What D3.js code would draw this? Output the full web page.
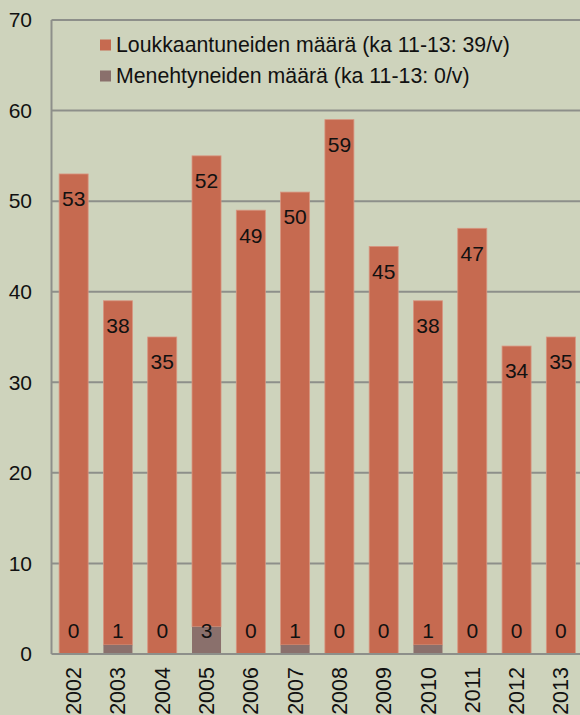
<!DOCTYPE html>
<html>
<head>
<meta charset="utf-8">
<script src="https://cdn.jsdelivr.net/npm/d3@7"></script>
<style>
  html, body { margin: 0; padding: 0; background: #ced3bc; }
  svg { display: block; }
  text { font-family: Arial, "Liberation Sans", sans-serif; fill: #111; }
</style>
</head>
<body>
<svg id="chart" width="580" height="715"></svg>
<script>
const years = ["2002","2003","2004","2005","2006","2007","2008","2009","2010","2011","2012","2013"];
const injured = [53, 38, 35, 52, 49, 50, 59, 45, 38, 47, 34, 35];
const killed  = [0, 1, 0, 3, 0, 1, 0, 0, 1, 0, 0, 0];
const yTicks = [0, 10, 20, 30, 40, 50, 60, 70];
const seriesNames = ["Loukkaantuneiden määrä (ka 11-13: 39/v)", "Menehtyneiden määrä (ka 11-13: 0/v)"];
const colors = ["#c66a50", "#8a706c"];

const svg = d3.select("#chart");
const margin = { left: 51.5, right: -3, top: 20, bottom: 61 };
const W = 580, H = 715;

const x = d3.scaleBand().domain(years)
  .range([margin.left, W - margin.right]).paddingInner(0.345).paddingOuter(0.1725);
const y = d3.scaleLinear().domain([0, 70]).range([H - margin.bottom, margin.top]);

// gridlines
svg.append("g").selectAll("line").data(yTicks.filter(d => d > 0)).join("line")
  .attr("x1", margin.left).attr("x2", W)
  .attr("y1", d => y(d)).attr("y2", d => y(d))
  .attr("stroke", "#8d8f8a").attr("stroke-width", 2);

// y axis line
svg.append("line").attr("x1", margin.left).attr("x2", margin.left)
  .attr("y1", y(70)).attr("y2", y(0)).attr("stroke", "#8d8f8a").attr("stroke-width", 2);

// y tick labels
svg.append("g").selectAll("text").data(yTicks).join("text")
  .attr("x", 32).attr("y", d => y(d)).attr("dy", "0.35em")
  .attr("text-anchor", "end").attr("font-size", 21).text(d => d);

// stacked data
const data = years.map((yr, i) => ({ year: yr, killed: killed[i], injured: injured[i] }));
const stack = d3.stack().keys(["killed", "injured"])(data);

const bars = svg.append("g");
bars.selectAll("rect.inj").data(stack[1]).join("rect").attr("class", "inj")
  .attr("x", d => x(d.data.year)).attr("width", x.bandwidth())
  .attr("y", d => y(d[1])).attr("height", d => y(d[0]) - y(d[1]))
  .attr("fill", colors[0]).attr("stroke", "#d89580").attr("stroke-width", 0.8);
bars.selectAll("rect.kil").data(stack[0].filter(d => d[1] > d[0])).join("rect").attr("class", "kil")
  .attr("x", d => x(d.data.year)).attr("width", x.bandwidth())
  .attr("y", d => y(d[1])).attr("height", d => y(d[0]) - y(d[1]))
  .attr("fill", colors[1]);

// x axis baseline
svg.append("line").attr("x1", margin.left).attr("x2", W)
  .attr("y1", y(0)).attr("y2", y(0)).attr("stroke", "#8d8f8a").attr("stroke-width", 2);

// injured labels
svg.append("g").selectAll("text").data(stack[1]).join("text")
  .attr("x", d => x(d.data.year) + x.bandwidth() / 2)
  .attr("y", d => y(d[1]) + 25).attr("dy", "0.35em")
  .attr("text-anchor", "middle").attr("font-size", 21).text(d => d.data.injured);

// killed labels
svg.append("g").selectAll("text").data(data).join("text")
  .attr("x", d => x(d.year) + x.bandwidth() / 2)
  .attr("y", y(0) - 23).attr("dy", "0.35em")
  .attr("text-anchor", "middle").attr("font-size", 21).text(d => d.killed);

// year labels
svg.append("g").selectAll("text").data(years).join("text")
  .attr("transform", d => `translate(${x(d) + x.bandwidth() / 2},${y(0) + 13}) rotate(-90)`)
  .attr("dy", "0.35em").attr("text-anchor", "end").attr("font-size", 21.5).text(d => d);

// legend
const leg = svg.append("g");
seriesNames.forEach((name, i) => {
  const ly = 45 + i * 31;
  leg.append("rect").attr("x", 100).attr("y", ly - 5.5).attr("width", 11).attr("height", 11).attr("fill", colors[i]);
  leg.append("text").attr("x", 116).attr("y", ly).attr("dy", "0.35em")
    .attr("font-size", 21.3).text(name);
});
</script>
</body>
</html>
